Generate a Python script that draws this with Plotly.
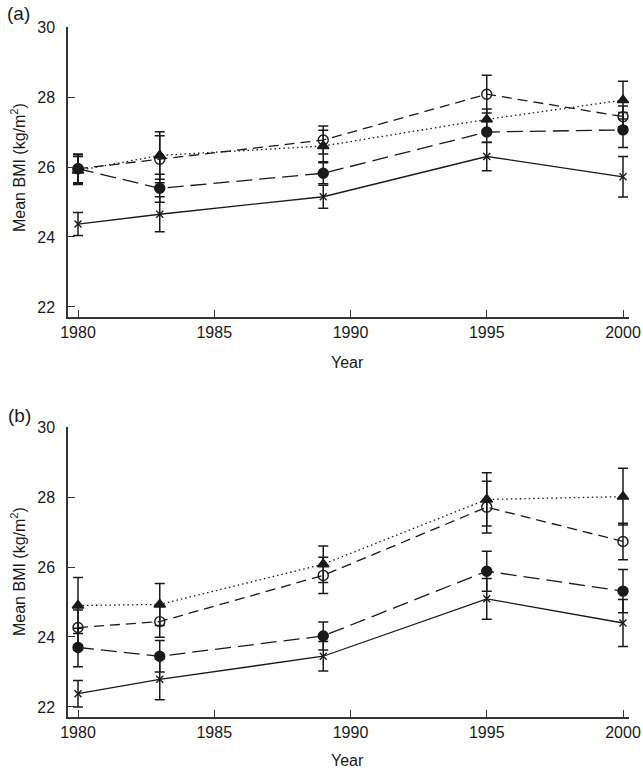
import plotly.graph_objects as go

years = [1980, 1983, 1989, 1995, 2000]
x_ticks = [1980, 1985, 1990, 1995, 2000]
y_ticks = [22, 24, 26, 28, 30]

# Panel (a)
a_cross = [24.37, 24.65, 25.15, 26.30, 25.72]
a_cross_err = [0.33, 0.50, 0.33, 0.41, 0.58]
a_fcirc = [25.95, 25.39, 25.82, 27.00, 27.06]
a_fcirc_err = [0.42, 0.40, 0.30, 0.30, 0.50]
a_ocirc = [25.95, 26.22, 26.77, 28.08, 27.44]
a_ocirc_err = [0.40, 0.67, 0.40, 0.54, 0.30]
a_tri = [25.90, 26.33, 26.60, 27.36, 27.91]
a_tri_err = [0.40, 0.68, 0.45, 0.30, 0.54]

# Panel (b)
b_cross = [22.38, 22.79, 23.45, 25.09, 24.40]
b_cross_err = [0.38, 0.58, 0.42, 0.58, 0.67]
b_fcirc = [23.70, 23.45, 24.03, 25.88, 25.31]
b_fcirc_err = [0.55, 0.45, 0.40, 0.57, 0.62]
b_ocirc = [24.27, 24.44, 25.76, 27.71, 26.73]
b_ocirc_err = [0.50, 0.45, 0.52, 0.74, 0.52]
b_tri = [24.90, 24.93, 26.08, 27.93, 28.01]
b_tri_err = [0.80, 0.60, 0.52, 0.76, 0.81]

INK = "#1a1a1a"
FONT = "Liberation Sans, Arial, sans-serif"

styles = [
    dict(name="×", dash="solid", symbol="x-thin", size=7, lw=1.3),
    dict(name="●", dash="16px,7px", symbol="circle", size=10, lw=1.3),
    dict(name="○", dash="10px,6px", symbol="circle-open", size=10, lw=1.3),
    dict(name="▲", dash="1.5px,3px", symbol="triangle-up", size=10, lw=1.3),
]

fig = go.Figure()

panels = [
    ("x", "y", [a_cross, a_fcirc, a_ocirc, a_tri], [a_cross_err, a_fcirc_err, a_ocirc_err, a_tri_err]),
    ("x2", "y2", [b_cross, b_fcirc, b_ocirc, b_tri], [b_cross_err, b_fcirc_err, b_ocirc_err, b_tri_err]),
]

for xa, ya, series, errs in panels:
    for st, vals, err in zip(styles, series, errs):
        fig.add_trace(go.Scatter(
            x=years, y=vals, xaxis=xa, yaxis=ya, name=st["name"],
            mode="lines+markers", cliponaxis=False,
            line=dict(color=INK, width=st["lw"], dash=st["dash"]),
            marker=dict(symbol=st["symbol"], size=st["size"], color=INK,
                        line=dict(color=INK, width=1.4)),
            error_y=dict(type="data", array=err, visible=True,
                         color=INK, thickness=1.5, width=5),
            showlegend=False,
        ))

H_PLOT = 690.0
def py(p):
    return (717.0 - p) / H_PLOT

axis_common = dict(
    showline=True, linecolor="#333333", linewidth=1.5,
    ticks="inside", ticklen=7, tickwidth=1.3, tickcolor="#333333",
    showgrid=False, zeroline=False, automargin=False,
    tickfont=dict(family=FONT, size=16, color=INK),
)

L, R = 68, 14
W_PLOT = 643 - L - R
xrange = [1979.633, 2000.22]
yrange = [21.714, 30.0]

fig.update_layout(
    width=643, height=773, autosize=False,
    margin=dict(l=L, r=R, t=27, b=56),
    paper_bgcolor="white", plot_bgcolor="white",
    font=dict(family=FONT, size=16, color=INK),
    xaxis=dict(domain=[0, 1], anchor="y", range=xrange, tickvals=x_ticks,
               ticklabelstandoff=0, **axis_common),
    yaxis=dict(domain=[py(317), 1.0], anchor="x", range=yrange, tickvals=y_ticks,
               ticklabelstandoff=8, **axis_common),
    xaxis2=dict(domain=[0, 1], anchor="y2", range=xrange, tickvals=x_ticks,
                ticklabelstandoff=0, **axis_common),
    yaxis2=dict(domain=[0.0, py(427)], anchor="x2", range=yrange, tickvals=y_ticks,
                ticklabelstandoff=8, **axis_common),
)

def px(p):
    return (p - L) / float(W_PLOT)

annots = [
    dict(text="(a)", x=px(18), y=py(14), size=19, angle=0),
    dict(text="(b)", x=px(19), y=py(416), size=19, angle=0),
    dict(text="Mean BMI (kg/m<sup>2</sup>)", x=px(18), y=py(168), size=16, angle=-90),
    dict(text="Mean BMI (kg/m<sup>2</sup>)", x=px(18), y=py(572), size=16, angle=-90),
    dict(text="Year", x=px(347), y=py(362), size=16, angle=0),
    dict(text="Year", x=px(347), y=py(760), size=16, angle=0),
]
for a in annots:
    fig.add_annotation(
        text=a["text"], x=a["x"], y=a["y"], xref="paper", yref="paper",
        showarrow=False, textangle=a["angle"], xanchor="center", yanchor="middle",
        font=dict(family=FONT, size=a["size"], color=INK),
    )

fig.write_html(
    "out.html",
    config={"displayModeBar": False, "responsive": False},
    post_script=(
        "document.documentElement.style.margin='0';"
        "document.documentElement.style.overflow='hidden';"
        "document.body.style.margin='0';"
        "document.body.style.overflow='hidden';"
    ),
)
